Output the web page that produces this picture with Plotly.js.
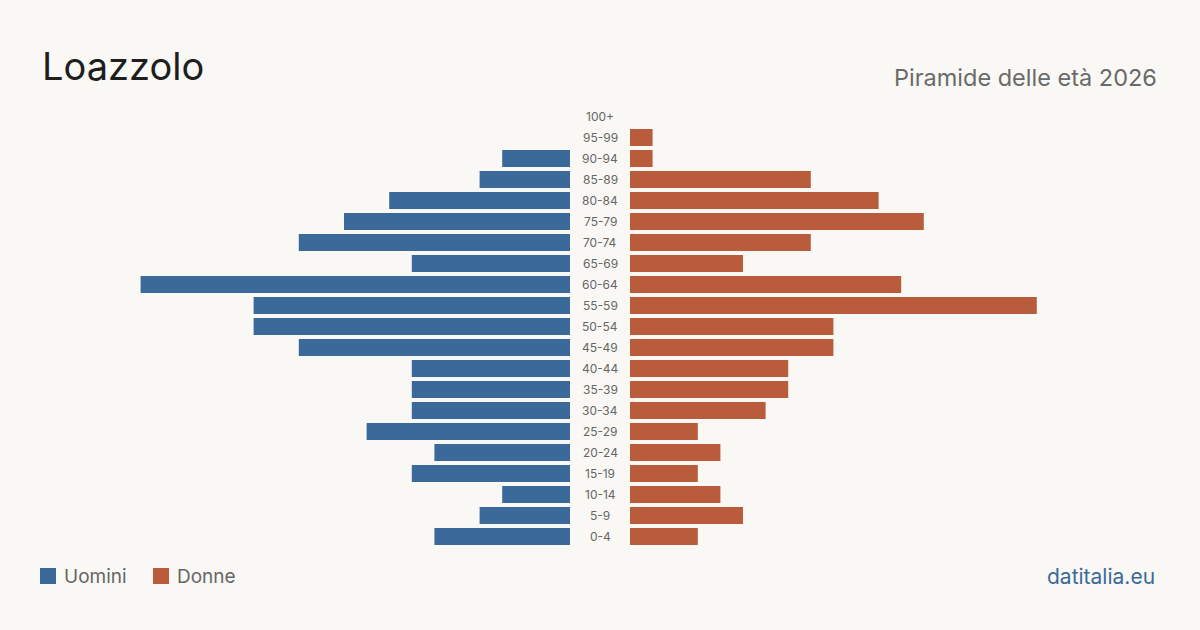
<!DOCTYPE html>
<html>
<head>
<meta charset="utf-8">
<script src="https://cdn.plot.ly/plotly-3.0.1.min.js"></script>
<style>
html,body{margin:0;padding:0;background:#f9f8f4;}
#chart{width:1200px;height:630px;}
</style>
</head>
<body>
<div id="chart"></div>
<script>
const ageGroups = ["0-4","5-9","10-14","15-19","20-24","25-29","30-34","35-39","40-44","45-49","50-54","55-59","60-64","65-69","70-74","75-79","80-84","85-89","90-94","95-99","100+"];
const uomini = [6,4,3,7,6,9,7,7,7,12,14,14,19,7,12,10,8,4,3,0,0];
const donne  = [3,5,4,3,4,3,6,7,7,9,9,18,12,5,8,13,11,8,1,1,0];

const title = "Loazzolo";
const subtitle = "Piramide delle età 2026";
const source = "datitalia.eu";
const blue = "#3b6a9a";
const orange = "#b95c3c";
const font = "Inter, 'Noto Sans', sans-serif";

const span = 570/22.6;
const mT = 106, mB = 83, H = 630;
const plotH = H - mT - mB;
const py = px => (H - mB - px) / plotH;

const traces = [
  {type:"bar", orientation:"h", y:ageGroups, x:uomini, xaxis:"x", yaxis:"y",
   marker:{color:blue}, name:"Uomini", hoverinfo:"x+y"},
  {type:"bar", orientation:"h", y:ageGroups, x:donne, xaxis:"x2", yaxis:"y",
   marker:{color:orange}, name:"Donne", hoverinfo:"x+y"}
];

const annotations = ageGroups.map(g => ({
  xref:"paper", yref:"y", x:0.5, y:g, text:g, showarrow:false,
  xanchor:"center", yanchor:"middle",
  font:{family:font, size:12, color:"#666"}
}));

annotations.push(
  {xref:"paper", yref:"paper", x:40/1200, y:py(66), text:title, showarrow:false,
   xanchor:"left", yanchor:"middle", font:{family:font, size:38, color:"#1e1e1e"}},
  {xref:"paper", yref:"paper", x:1159/1200, y:py(77), text:subtitle, showarrow:false,
   xanchor:"right", yanchor:"middle", font:{family:font, size:23.5, color:"#6a6a6a"}},
  {xref:"paper", yref:"paper", x:62/1200, y:py(576), text:"Uomini", showarrow:false,
   xanchor:"left", yanchor:"middle", font:{family:font, size:19, color:"#666"}},
  {xref:"paper", yref:"paper", x:175/1200, y:py(576), text:"Donne", showarrow:false,
   xanchor:"left", yanchor:"middle", font:{family:font, size:19, color:"#666"}},
  {xref:"paper", yref:"paper", x:1157/1200, y:py(576), text:source, showarrow:false,
   xanchor:"right", yanchor:"middle", font:{family:font, size:21, color:"#3b6a9a"}}
);

const shapes = [
  {type:"rect", xref:"paper", yref:"paper", x0:40/1200, x1:56/1200, y0:py(584), y1:py(568),
   fillcolor:blue, line:{width:0}},
  {type:"rect", xref:"paper", yref:"paper", x0:153/1200, x1:169/1200, y0:py(584), y1:py(568),
   fillcolor:orange, line:{width:0}}
];

const layout = {
  width:1200, height:630,
  paper_bgcolor:"#f9f8f4", plot_bgcolor:"#f9f8f4",
  margin:{l:0, r:0, t:mT, b:mB, pad:0},
  showlegend:false,
  bargap:0.19,
  xaxis:{domain:[0, 570/1200], range:[span, 0], visible:false, fixedrange:true},
  xaxis2:{domain:[630/1200, 1], range:[0, span], visible:false, fixedrange:true},
  yaxis:{type:"category", categoryorder:"array", categoryarray:ageGroups,
         range:[-0.5, ageGroups.length-0.5], visible:false, fixedrange:true},
  annotations:annotations,
  shapes:shapes,
  font:{family:font}
};

Plotly.newPlot("chart", traces, layout, {displayModeBar:false, staticPlot:true});
</script>
</body>
</html>
